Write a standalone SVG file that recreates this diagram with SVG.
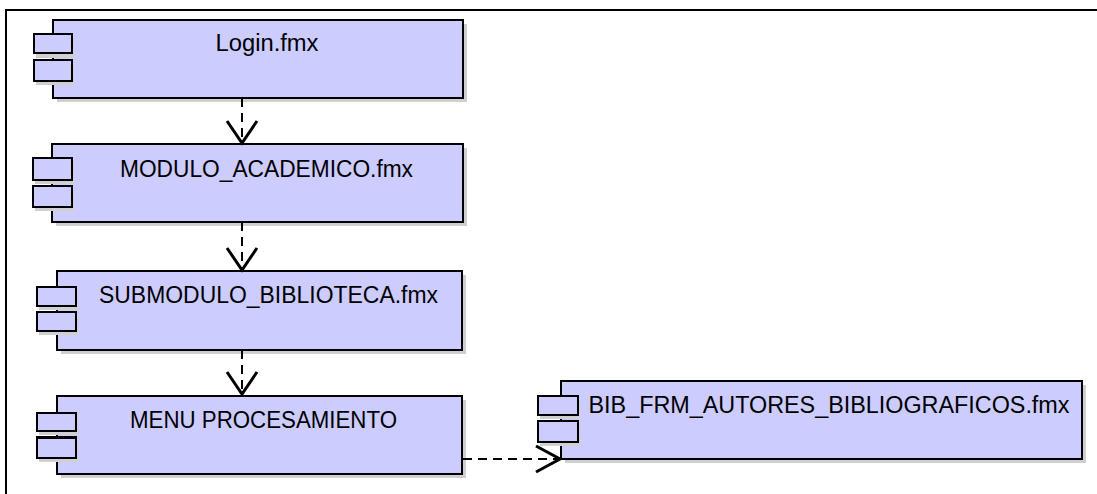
<svg xmlns="http://www.w3.org/2000/svg" width="1097" height="494" viewBox="0 0 1097 494">
<defs>
<style>
.main{fill:#ccccff;stroke:#000;stroke-width:2}
.port{fill:#ccccff;stroke:#000;stroke-width:2}
.shadow{fill:#cfcfcf}
.lbl{font-family:"Liberation Sans",Arial,sans-serif;font-size:23px;fill:#000;text-anchor:middle}
.dep{fill:none;stroke:#000;stroke-width:2;stroke-dasharray:9,6}
.head{fill:none;stroke:#000;stroke-width:3}
.frame{fill:none;stroke:#000;stroke-width:2}
</style>
</defs>
<rect width="1097" height="494" fill="#fff"/>
<path class="frame" d="M6,494 V10 H1097"/>

<g id="node-login">
<rect class="shadow" x="57" y="24" width="410" height="78"/>
<rect class="main" x="53" y="20" width="410" height="78"/>
<rect class="shadow" x="36" y="38" width="38" height="20"/>
<rect class="shadow" x="36" y="64" width="38" height="21"/>
<rect class="port" x="34" y="34" width="38" height="19"/>
<rect class="port" x="34" y="60" width="38" height="21"/>
<text class="lbl" x="267" y="51" textLength="103" lengthAdjust="spacingAndGlyphs">Login.fmx</text>
</g>

<g id="node-modulo">
<rect class="shadow" x="56" y="148" width="411" height="78"/>
<rect class="main" x="52" y="144" width="411" height="78"/>
<rect class="shadow" x="35" y="162" width="39" height="22"/>
<rect class="shadow" x="35" y="190" width="39" height="21"/>
<rect class="port" x="33" y="158" width="39" height="22"/>
<rect class="port" x="33" y="186" width="39" height="21"/>
<text class="lbl" x="266.5" y="177" textLength="293" lengthAdjust="spacingAndGlyphs">MODULO_ACADEMICO.fmx</text>
</g>

<g id="node-submodulo">
<rect class="shadow" x="61" y="275" width="405" height="79"/>
<rect class="main" x="57" y="271" width="405" height="79"/>
<rect class="shadow" x="39" y="291" width="39" height="19"/>
<rect class="shadow" x="39" y="316" width="39" height="19"/>
<rect class="port" x="37" y="287" width="39" height="19"/>
<rect class="port" x="37" y="312" width="39" height="19"/>
<text class="lbl" x="268.5" y="303" textLength="339" lengthAdjust="spacingAndGlyphs">SUBMODULO_BIBLIOTECA.fmx</text>
</g>

<g id="node-menu">
<rect class="shadow" x="61" y="400" width="405" height="78"/>
<rect class="main" x="57" y="396" width="405" height="78"/>
<rect class="shadow" x="39" y="417" width="39" height="18"/>
<rect class="shadow" x="39" y="441" width="39" height="21"/>
<rect class="port" x="37" y="413" width="39" height="18"/>
<rect class="port" x="37" y="437" width="39" height="21"/>
<line x1="37" y1="438" x2="76" y2="438" stroke="#000" stroke-width="2"/>
<text class="lbl" x="263.5" y="428" textLength="267" lengthAdjust="spacingAndGlyphs">MENU PROCESAMIENTO</text>
</g>

<g id="node-bib">
<rect class="shadow" x="565" y="385" width="521" height="78"/>
<rect class="main" x="561" y="381" width="521" height="78"/>
<rect class="shadow" x="540" y="400" width="40" height="19"/>
<rect class="shadow" x="540" y="425" width="40" height="21"/>
<rect class="port" x="538" y="396" width="40" height="19"/>
<rect class="port" x="538" y="421" width="40" height="21"/>
<text class="lbl" x="829" y="413" textLength="481" lengthAdjust="spacingAndGlyphs">BIB_FRM_AUTORES_BIBLIOGRAFICOS.fmx</text>
</g>

<g id="connectors">
<path class="dep" d="M242,98 V142"/>
<polyline class="head" points="227,121 242,143 257,121"/>
<path class="dep" d="M242,222 V269"/>
<polyline class="head" points="227,248 242,270 257,248"/>
<path class="dep" d="M242,350 V393"/>
<polyline class="head" points="227,372 242,394 257,372"/>
<path class="dep" d="M463,459 H558"/>
<polyline class="head" points="536,446 560,459 536,472"/>
</g>
</svg>
